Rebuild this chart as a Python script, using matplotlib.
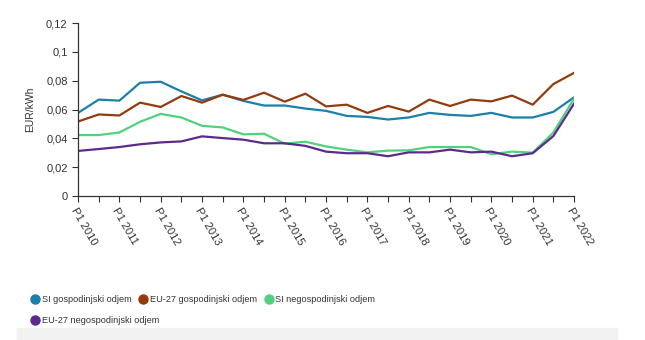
import numpy as np
import matplotlib
matplotlib.use("Agg")
import matplotlib.pyplot as plt
from matplotlib.lines import Line2D
from matplotlib.patches import Rectangle

plt.rcParams['font.family'] = ['Liberation Sans', 'DejaVu Sans']

periods = []
for y in range(2010, 2023):
    periods.append("P1 %d" % y)
    if y < 2022:
        periods.append("P2 %d" % y)

si_gosp = [0.0577, 0.0669, 0.0662, 0.0786, 0.0793, 0.0726, 0.0664, 0.0703, 0.0660, 0.0628,
           0.0628, 0.0607, 0.0591, 0.0556, 0.0549, 0.0531, 0.0545, 0.0577, 0.0563, 0.0556,
           0.0577, 0.0545, 0.0545, 0.0584, 0.0685]
eu_gosp = [0.0517, 0.0566, 0.0559, 0.0648, 0.0618, 0.0694, 0.0648, 0.0703, 0.0667, 0.0717,
           0.0655, 0.0710, 0.0622, 0.0634, 0.0577, 0.0625, 0.0586, 0.0669, 0.0625, 0.0669,
           0.0657, 0.0697, 0.0634, 0.0777, 0.0855]
si_negosp = [0.0423, 0.0423, 0.0441, 0.0515, 0.0570, 0.0545, 0.0487, 0.0476, 0.0428, 0.0432,
             0.0363, 0.0377, 0.0344, 0.0322, 0.0303, 0.0315, 0.0317, 0.0340, 0.0340, 0.0340,
             0.0290, 0.0308, 0.0301, 0.0441, 0.0676]
eu_negosp = [0.0313, 0.0326, 0.0340, 0.0359, 0.0372, 0.0379, 0.0414, 0.0402, 0.0391, 0.0366,
             0.0366, 0.0348, 0.0308, 0.0297, 0.0297, 0.0276, 0.0303, 0.0303, 0.0322, 0.0303,
             0.0308, 0.0276, 0.0297, 0.0416, 0.0641]

names = ["SI gospodinjski odjem", "EU-27 gospodinjski odjem",
         "SI negospodinjski odjem", "EU-27 negospodinjski odjem"]
colors = ["#1b7fa7", "#933b0d", "#4fd27b", "#5b2a8c"]
series = [si_gosp, eu_gosp, si_negosp, eu_negosp]

fig = plt.figure(figsize=(6.45, 3.4), dpi=100)
ax = fig.add_axes([0.121, 0.4235, 0.769, 0.5085])

x = np.arange(len(periods))
for s, c in zip(series, colors):
    ax.plot(x, s, color=c, lw=1.6)

ax.set_xlim(0, len(periods) - 1)
ax.set_ylim(0, 0.12)
yt = np.arange(0, 0.121, 0.02)
ax.set_yticks(yt)
ax.set_yticklabels(["0" if v == 0 else ("%g" % round(v, 2)).replace(".", ",") for v in yt])
ax.set_xticks(x)
ax.set_xticklabels([p if i % 2 == 0 else "" for i, p in enumerate(periods)],
                   rotation=-60, ha="left", va="top", rotation_mode="anchor")
ax.tick_params(axis="both", colors="#333333", labelsize=8, length=4, width=0.8)
ax.tick_params(axis="x", pad=3)
ax.set_ylabel("EUR/kWh", fontsize=7.5, color="#333333", labelpad=8)

for side in ["top", "right"]:
    ax.spines[side].set_visible(False)
for side in ["left", "bottom"]:
    ax.spines[side].set_color("#333333")
    ax.spines[side].set_linewidth(0.9)

# legend laid out like the html one: three items on the first row, one on the second
rows = [[0, 1, 2], [3]]
tops = [0.145, 0.083]
for idx, top in zip(rows, tops):
    handles = [Line2D([], [], ls="", marker="o", ms=6.5, color=colors[i]) for i in idx]
    leg = fig.legend(handles, [names[i] for i in idx], loc="upper left",
                     bbox_to_anchor=(0.042, top), ncol=len(idx), frameon=False,
                     fontsize=6.6, handletextpad=0.3, columnspacing=0.9,
                     handlelength=0.8, borderpad=0)
    for t in leg.get_texts():
        t.set_color("#333333")

fig.patches.append(Rectangle((17 / 645, 0), 600 / 645, 12 / 340, transform=fig.transFigure,
                             color="#f2f2f2", zorder=0))

fig.savefig("out.png", dpi=100)
